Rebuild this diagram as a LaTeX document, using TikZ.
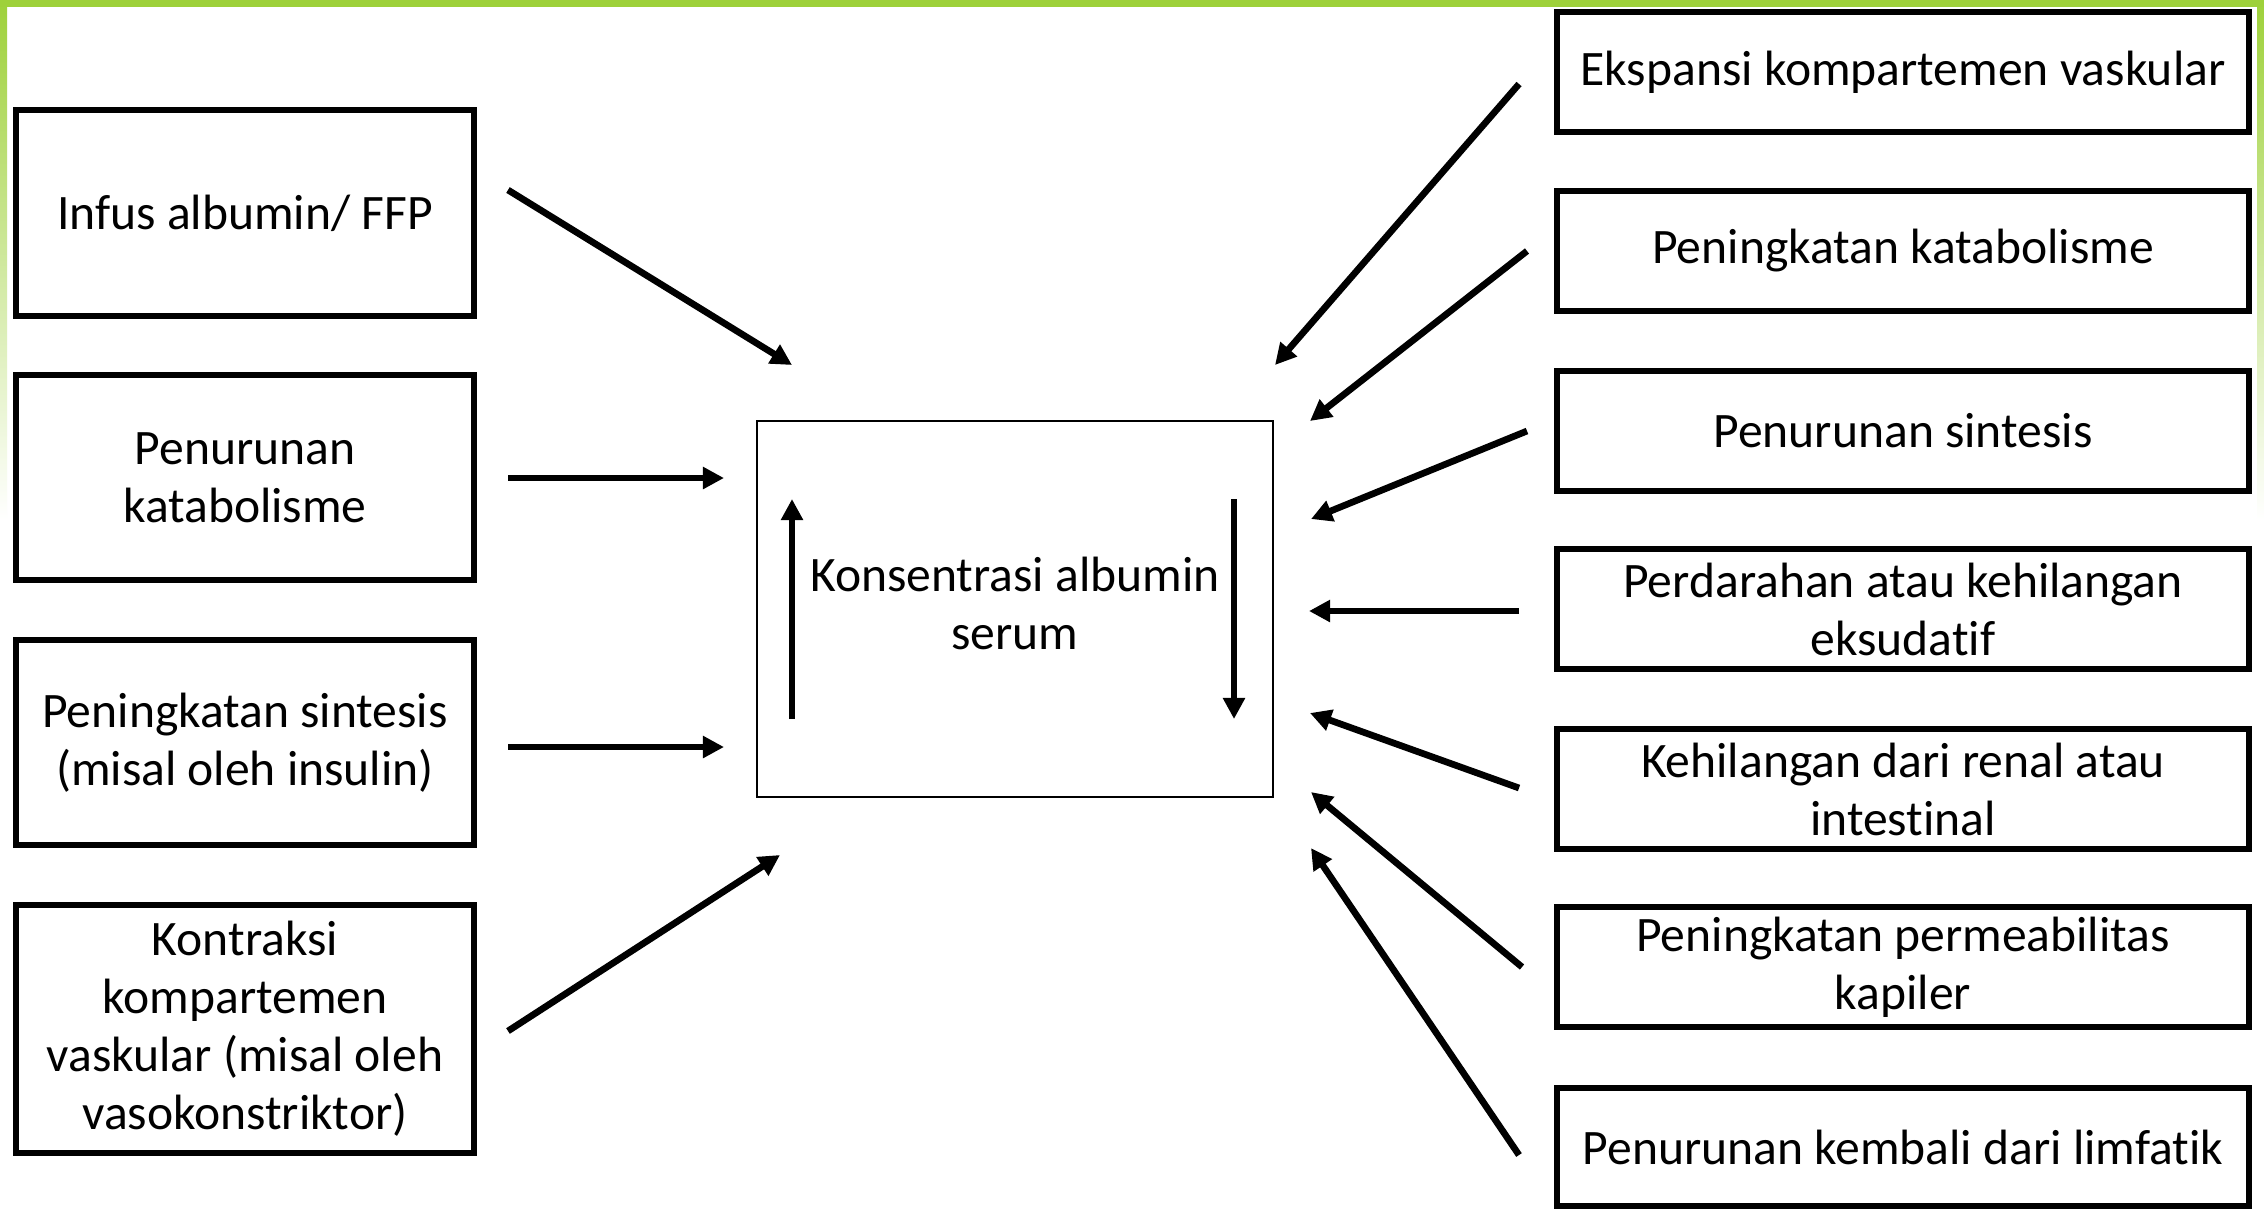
\documentclass[tikz,border=0pt]{standalone}
\usepackage{fontspec}
\setmainfont{Carlito}[Ligatures=NoCommon]
\usetikzlibrary{arrows.meta}
\definecolor{grn}{RGB}{158,209,58}
\begin{document}
\begin{tikzpicture}[x=0.01cm,y=-0.01cm,
  box/.style={draw=black, line width=1.8pt, fill=white, align=center, inner sep=0pt,
    font=\fontsize{14.1}{16.5}\selectfont},
  lbox/.style={box, minimum width=4.58cm},
  rbox/.style={box, minimum width=6.92cm, minimum height=1.20cm},
  cbox/.style={draw=black, line width=0.6pt, align=center, inner sep=0pt,
    minimum width=5.16cm, minimum height=3.76cm, font=\fontsize{14.1}{16.5}\selectfont},
  arr/.style={line width=1.9pt, -{Triangle[length=6pt,width=6pt]}}]
% background and bounding box
\fill[white] (0,0) rectangle (2264,1208);
\useasboundingbox (0,0) rectangle (2264,1208);
% green frame
\shade[top color=grn, bottom color=white] (0,0) rectangle (7,520);
\shade[top color=grn, bottom color=white] (2257,0) rectangle (2264,520);
\fill[grn] (0,0) rectangle (2264,7);

% left boxes
\node[lbox, minimum height=2.06cm] (l1) at (245,213) {Infus albumin/ FFP};
\node[lbox, minimum height=2.05cm] (l2) at (245,477.5) {Penurunan\\katabolisme};
\node[lbox, minimum height=2.05cm] (l3) at (245,742.5) {Peningkatan sintesis\\(misal oleh insulin)};
\node[lbox, minimum height=2.48cm] (l4) at (245,1029) {Kontraksi\\kompartemen\\vaskular (misal oleh\\vasokonstriktor)};

% centre box
\node[cbox] (c) at (1015,609) {\raisebox{-0.27cm}{\begin{tabular}{@{}c@{}}Konsentrasi albumin\\serum\end{tabular}}};

% right boxes
\node[rbox] (r1) at (1903,72) {Ekspansi kompartemen vaskular};
\node[rbox] (r2) at (1903,251) {Peningkatan katabolisme};
\node[rbox] (r3) at (1903,431) {Penurunan sintesis};
\node[rbox] (r4) at (1903,609) {Perdarahan atau kehilangan\\eksudatif};
\node[rbox] (r5) at (1903,789) {Kehilangan dari renal atau\\intestinal};
\node[rbox] (r6) at (1903,967) {Peningkatan permeabilitas\\kapiler};
\node[rbox, minimum height=1.18cm] (r7) at (1903,1147) {Penurunan kembali dari limfatik};

% arrow end points
\coordinate (a1s) at (508,190);  \coordinate (a1e) at (792,365);
\coordinate (a2s) at (508,478);  \coordinate (a2e) at (724,478);
\coordinate (a3s) at (508,747);  \coordinate (a3e) at (724,747);
\coordinate (a4s) at (508,1031); \coordinate (a4e) at (780,855);
\coordinate (ups) at (792,719);  \coordinate (upe) at (792,499);
\coordinate (dns) at (1234,499); \coordinate (dne) at (1234,719);
\coordinate (b1s) at (1519,84);  \coordinate (b1e) at (1275,365);
\coordinate (b2s) at (1527,251); \coordinate (b2e) at (1310,421);
\coordinate (b3s) at (1527,431); \coordinate (b3e) at (1311,519);
\coordinate (b4s) at (1519,611); \coordinate (b4e) at (1309,611);
\coordinate (b5s) at (1519,788); \coordinate (b5e) at (1310,713);
\coordinate (b6s) at (1522,967); \coordinate (b6e) at (1311,792);
\coordinate (b7s) at (1519,1155);\coordinate (b7e) at (1311,848);

% arrows
\draw[arr] (a1s) -- (a1e);
\draw[arr] (a2s) -- (a2e);
\draw[arr] (a3s) -- (a3e);
\draw[arr] (a4s) -- (a4e);
\draw[arr] (ups) -- (upe);
\draw[arr] (dns) -- (dne);
\draw[arr] (b1s) -- (b1e);
\draw[arr] (b2s) -- (b2e);
\draw[arr] (b3s) -- (b3e);
\draw[arr] (b4s) -- (b4e);
\draw[arr] (b5s) -- (b5e);
\draw[arr] (b6s) -- (b6e);
\draw[arr] (b7s) -- (b7e);
\end{tikzpicture}
\end{document}
